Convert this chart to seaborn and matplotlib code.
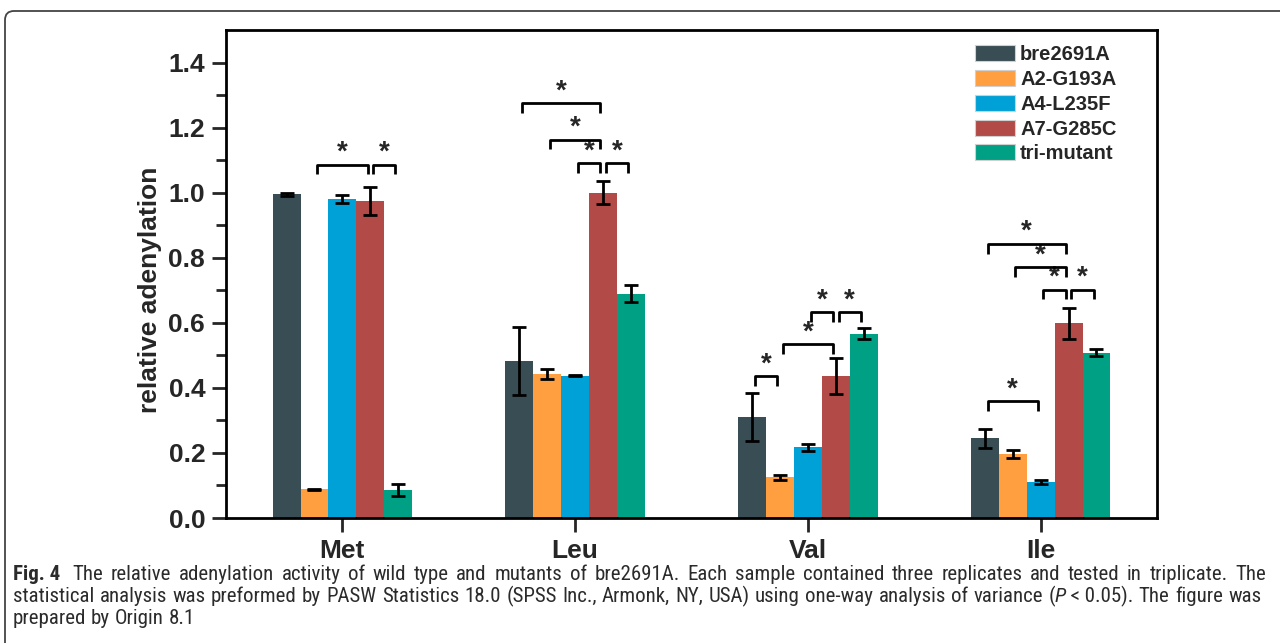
import numpy as np
import pandas as pd
import matplotlib
matplotlib.use('Agg')
import matplotlib.pyplot as plt
import seaborn as sns
from matplotlib import font_manager
from matplotlib.patches import FancyBboxPatch

# data
groups = ['Met', 'Leu', 'Val', 'Ile']
strains = ['bre2691A', 'A2-G193A', 'A4-L235F', 'A7-G285C', 'tri-mutant']
bre = [0.995, 0.482, 0.311, 0.245]
a2 = [0.088, 0.442, 0.125, 0.196]
a4 = [0.980, 0.437, 0.217, 0.110]
a7 = [0.975, 1.000, 0.436, 0.598]
tri = [0.085, 0.690, 0.567, 0.508]
bre_err = [0.005, 0.105, 0.074, 0.030]
a2_err = [0.002, 0.015, 0.008, 0.012]
a4_err = [0.012, 0.002, 0.012, 0.006]
a7_err = [0.043, 0.036, 0.055, 0.049]
tri_err = [0.018, 0.027, 0.017, 0.010]
colors = ['#384d54', '#ff9f3f', '#00a1d7', '#b24a48', '#00a085']

# significance brackets: group, strain i, strain j, height
sig_group = [0, 0, 1, 1, 1, 1, 2, 2, 2, 2, 3, 3, 3, 3, 3]
sig_i = [1, 3, 0, 1, 2, 3, 0, 1, 2, 3, 0, 0, 1, 2, 3]
sig_j = [3, 4, 3, 3, 3, 4, 1, 3, 3, 4, 2, 3, 3, 3, 4]
sig_h = [1.086, 1.086, 1.276, 1.163, 1.091, 1.091,
         0.436, 0.534, 0.633, 0.633, 0.36, 0.843, 0.772, 0.702, 0.702]

means = [bre, a2, a4, a7, tri]
errs = [bre_err, a2_err, a4_err, a7_err, tri_err]
rows = []
for s, m, e in zip(strains, means, errs):
    for g, v, ev in zip(groups, m, e):
        rows.append({'group': g, 'strain': s, 'value': v, 'err': ev})
df = pd.DataFrame(rows)

sns.set_style('ticks')
plt.rcParams['font.family'] = ['Liberation Sans', 'DejaVu Sans']

fig = plt.figure(figsize=(12.8, 6.43), dpi=100)
ax = fig.add_axes([0.1766, 0.1944, 0.7273, 0.7589])

sns.barplot(data=df, x='group', y='value', hue='strain', order=groups,
            hue_order=strains, palette=colors, errorbar=None, width=0.6,
            gap=0, saturation=1, linewidth=0, ax=ax)
bars = list(ax.containers)

# error bars
for k, cont in enumerate(bars):
    for gi, bar in enumerate(cont):
        xc = bar.get_x() + bar.get_width() / 2
        ax.errorbar(xc, bar.get_height(), yerr=errs[k][gi], color='black',
                    elinewidth=2, capsize=5, capthick=2, zorder=4)

# brackets with stars
depth = 0.03
for g, i, j, h in zip(sig_group, sig_i, sig_j, sig_h):
    bi = bars[i][g]
    bj = bars[j][g]
    w = bi.get_width()
    x1 = bi.get_x() + w / 2 + 0.1 * w
    x2 = bj.get_x() + w / 2 - 0.1 * w
    ax.plot([x1, x1, x2, x2], [h - depth, h, h, h - depth], color='black',
            lw=2, solid_joinstyle='round', solid_capstyle='butt', zorder=5)
    ax.text((x1 + x2) / 2, h + 0.036, '*', ha='center', va='center',
            fontsize=20, fontweight='bold')

ax.set_xlim(-0.5, 3.5)
ax.set_ylim(0, 1.5)
ax.set_yticks(np.arange(0, 1.41, 0.2))
ax.set_yticks(np.arange(0.1, 1.5, 0.2), minor=True)
ax.set_yticklabels([f'{v:.1f}' for v in np.arange(0, 1.41, 0.2)])
ax.set_xlabel('')
ax.set_ylabel('relative adenylation', fontsize=19, fontweight='bold')
ax.yaxis.set_label_coords(-0.0687, 0.467)
ax.tick_params(axis='both', which='major', direction='out', length=10, width=2,
               labelsize=19, pad=5)
ax.tick_params(axis='y', which='minor', direction='out', length=7, width=2)
for lab in ax.get_xticklabels() + ax.get_yticklabels():
    lab.set_fontweight('bold')
for sp in ax.spines.values():
    sp.set_visible(True)
    sp.set_linewidth(2)
    sp.set_color('black')

handles, labels = ax.get_legend_handles_labels()
for hd in handles:
    hd.set_edgecolor('#d0d0d0')
    hd.set_linewidth(0.8)
leg = ax.legend(handles, labels, loc='upper left', bbox_to_anchor=(0.7935, 0.99),
                frameon=False, prop={'family': 'Liberation Sans', 'weight': 'bold', 'size': 14.5},
                handlelength=2.0, handleheight=0.85, handletextpad=0.25,
                labelspacing=0.29, borderpad=0)

# panel border (top and left, rounded corner)
border = FancyBboxPatch((5 / 1280, -0.2), 1.5, 1.2 - 11 / 643,
                        boxstyle='round,pad=0,rounding_size=0.007',
                        transform=fig.transFigure, facecolor='none',
                        edgecolor='#444444', lw=1.3, mutation_aspect=2.0,
                        clip_on=False)
fig.patches.append(border)

# caption font: a narrow sans if one is installed, else Lato
cap_font = 'Lato'
cap_stretch = 'normal'
names = {f.name for f in font_manager.fontManager.ttflist}
for cand in ['Roboto Condensed', 'Liberation Sans Narrow', 'Noto Sans Condensed',
             'Open Sans Condensed', 'DejaVu Sans Condensed', 'Noto Sans SemiCondensed']:
    if cand in names:
        cap_font = cand
        break
else:
    for f in font_manager.fontManager.ttflist:
        if f.name in ('Noto Sans', 'DejaVu Sans', 'Open Sans') and f.stretch == 'condensed' \
                and f.style == 'normal':
            cap_font, cap_stretch = f.name, 'condensed'
            break
cap_color = '#2b2b2b'

line1 = ('The relative adenylation activity of wild type and mutants of bre2691A. '
         'Each sample contained three replicates and tested in triplicate. The').split(' ')
line2a = ('statistical analysis was preformed by PASW Statistics 18.0 (SPSS Inc., Armonk, NY, USA) '
          'using one-way analysis of variance').split(' ')
line2b = 'The figure was'.split(' ')
line3 = 'prepared by Origin 8.1'.split(' ')

caption = [
    ([[('Fig. 4', 'bold', 'normal')]] + [[(w, 'normal', 'normal')] for w in line1], True),
    ([[(w, 'normal', 'normal')] for w in line2a]
     + [[('(', 'normal', 'normal'), ('P', 'normal', 'italic'),
         (' < 0.05).', 'normal', 'normal')]]
     + [[(w, 'normal', 'normal')] for w in line2b], True),
    ([[(w, 'normal', 'normal')] for w in line3], False),
]
baselines = [580, 602, 624]
x_left, x_right = 13, 1266
renderer = fig.canvas.get_renderer()


def measure(txt, wt, st, size):
    t = fig.text(0, 0, txt, fontsize=size, fontweight=wt, fontstyle=st,
                 fontstretch=cap_stretch, family=[cap_font, 'DejaVu Sans'])
    wpx = t.get_window_extent(renderer=renderer).width
    t.remove()
    return wpx


# pick a size so that the two long lines fit with plain spacing
sp10 = measure('a a', 'normal', 'normal', 10) - 2 * measure('a', 'normal', 'normal', 10)
nat = []
for words, justify in caption[:2]:
    tw = sum(measure(*run, 10) for word in words for run in word)
    nat.append(tw + sp10 * len(words))
cap_size = min(17.3, 10 * (x_right - x_left) * 0.985 / max(nat))
space_w = sp10 * cap_size / 10

for (words, justify), yb in zip(caption, baselines):
    widths = [[measure(*run, cap_size) for run in word] for word in words]
    total = sum(sum(w) for w in widths) + space_w
    if justify:
        gap = (x_right - x_left - total) / (len(words) - 1)
    else:
        gap = space_w
    x = x_left
    for wi, (word, ws) in enumerate(zip(words, widths)):
        for (txt, wt, st), wpx in zip(word, ws):
            fig.text(x / 1280, 1 - yb / 643, txt, fontsize=cap_size, fontweight=wt,
                     fontstyle=st, fontstretch=cap_stretch,
                     family=[cap_font, 'DejaVu Sans'], color=cap_color,
                     va='baseline', ha='left')
            x += wpx
        x += gap
        if wi == 0 and word[0][0] == 'Fig. 4':
            x += space_w

fig.savefig('out.png', dpi=100)
